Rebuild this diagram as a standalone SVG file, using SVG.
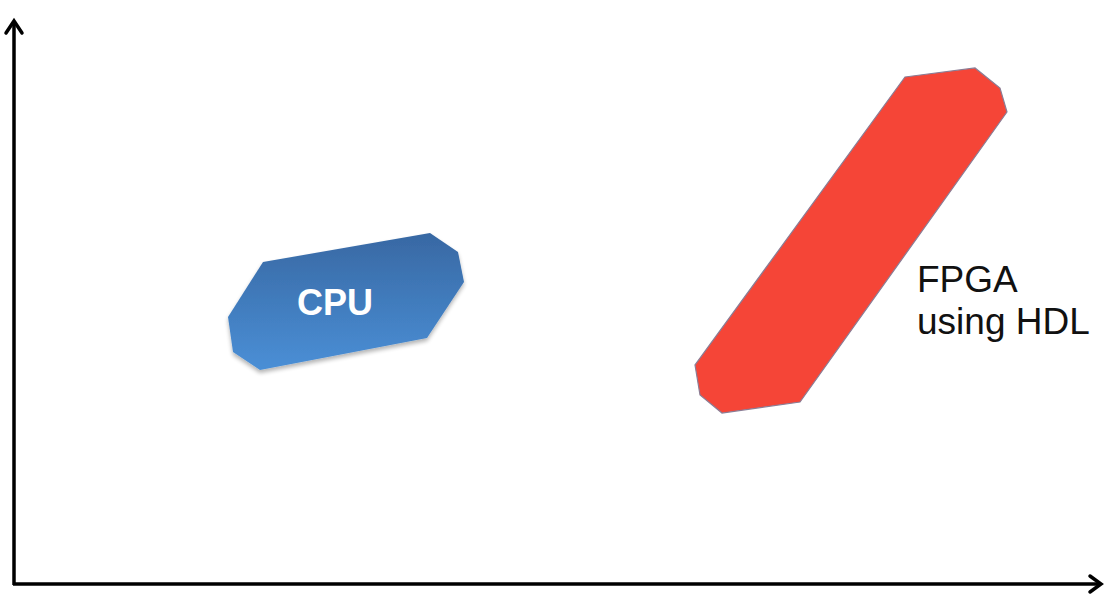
<svg xmlns="http://www.w3.org/2000/svg" width="1107" height="595" viewBox="0 0 1107 595">
<style>
.axis{stroke:#000;stroke-width:3.5;fill:none}
.head{stroke:#000;stroke-width:3.5;fill:none;stroke-linecap:round;stroke-linejoin:miter}
.lbl{font-family:"Liberation Sans",Arial,sans-serif;font-size:37px;fill:#111}
.cpu-t{font-family:"Liberation Sans",Arial,sans-serif;font-size:36px;font-weight:bold;fill:#fff}
</style>
<defs>
<linearGradient id="cpuG" x1="0" y1="0" x2="0" y2="1">
<stop offset="0" stop-color="#3868a3"/>
<stop offset="1" stop-color="#4a8fd6"/>
</linearGradient>
<filter id="sh" x="-10%" y="-10%" width="120%" height="130%">
<feGaussianBlur in="SourceAlpha" stdDeviation="2"/>
<feOffset dx="0" dy="3"/>
<feComponentTransfer><feFuncA type="linear" slope="0.3"/></feComponentTransfer>
<feMerge><feMergeNode/><feMergeNode in="SourceGraphic"/></feMerge>
</filter>
</defs>
<g id="axes">
<line class="axis" x1="14" y1="22" x2="14" y2="585"/>
<line class="axis" x1="13" y1="584" x2="1100" y2="584"/>
<polyline class="head" points="6,33 14,21 22,33"/>
<polyline class="head" points="1090,576 1101,584 1090,592"/>
</g>
<g id="cpu">
<polygon points="263,262 430,233 458,252 464,282 427,338 260,370 233,352 228,317" fill="url(#cpuG)" filter="url(#sh)"/>
<text class="cpu-t" x="297" y="315">CPU</text>
</g>
<g id="fpga">
<polygon points="905,77 975,68 1000,88 1007,112 800,402 722,413 700,395 695,365" fill="#f54537" stroke="#8a7d95" stroke-width="1.2"/>
<text class="lbl" x="917" y="292">FPGA</text>
<text class="lbl" x="917" y="334">using HDL</text>
</g>
</svg>
